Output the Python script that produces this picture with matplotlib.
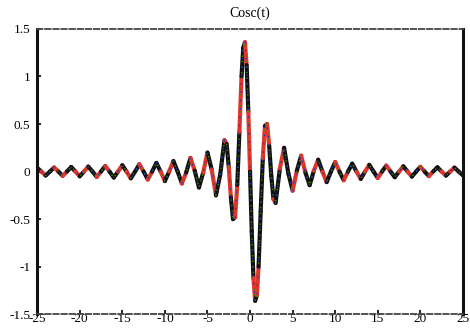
import numpy as np
import matplotlib
matplotlib.use('Agg')
import matplotlib.pyplot as plt
from matplotlib.collections import LineCollection

# sample times and Cosc(t) values
t = [-25, -24.5, -24, -23.5, -23, -22.5, -22, -21.5, -21, -20.5, -20, -19.5, -19, -18.5,
     -18, -17.5, -17, -16.5, -16, -15.5, -15, -14.5, -14, -13.5, -13, -12.5, -12, -11.5,
     -11, -10.5, -10, -9.5, -9, -8.5, -8, -7.5, -7, -6.5, -6, -5.5, -5, -4.5, -4, -3.5,
     -3, -2.75, -2.5, -2.25, -2, -1.75, -1.5, -1.25, -1, -0.8, -0.6, -0.4, -0.2,
     0, 0.2, 0.4, 0.6, 0.8, 1, 1.25, 1.5, 1.75, 2, 2.25, 2.5, 2.75, 3,
     3.5, 4, 4.5, 5, 5.5, 6, 6.5, 7, 7.5, 8, 8.5, 9, 9.5, 10, 10.5, 11, 11.5, 12, 12.5,
     13, 13.5, 14, 14.5, 15, 15.5, 16, 16.5, 17, 17.5, 18, 18.5, 19, 19.5, 20, 20.5,
     21, 21.5, 22, 22.5, 23, 23.5, 24, 24.5, 25]
cosc = [0.04, 0.0, -0.042, 0.0, 0.043, 0.0, -0.045, 0.0, 0.048, 0.0, -0.05, 0.0, 0.053, 0.0,
        -0.056, 0.0, 0.059, 0.0, -0.063, 0.0, 0.067, 0.0, -0.071, 0.0, 0.077, 0.0, -0.083, 0.0,
        0.091, 0.0, -0.10, 0.0, 0.111, 0.0, -0.125, -0.01, 0.143, 0.01, -0.167, -0.01, 0.20, 0.02, -0.25, -0.03,
        0.33, 0.29, 0.05, -0.27, -0.50, -0.48, -0.14, 0.42, 1.00, 1.30, 1.36, 1.12, 0.63,
        0.0, -0.63, -1.12, -1.36, -1.30, -1.00, -0.42, 0.14, 0.48, 0.50, 0.27, -0.05, -0.29, -0.33,
        0.03, 0.25, -0.02, -0.20, 0.01, 0.167, -0.01, -0.143, 0.01, 0.125, 0.0, -0.111, 0.0, 0.10, 0.0, -0.091, 0.0, 0.083, 0.0,
        -0.077, 0.0, 0.071, 0.0, -0.067, 0.0, 0.063, 0.0, -0.059, 0.0, 0.056, 0.0, -0.053, 0.0, 0.05, 0.0,
        -0.048, 0.0, 0.045, 0.0, -0.043, 0.0, 0.042, 0.0, -0.04]

xticks = [-25, -20, -15, -10, -5, 0, 5, 10, 15, 20, 25]
yticks = [-1.5, -1, -0.5, 0, 0.5, 1, 1.5]

plt.rcParams['font.family'] = ['Liberation Serif', 'DejaVu Serif']

fig = plt.figure(figsize=(4.7, 3.29), dpi=100)
ax = fig.add_axes([0.079, 0.045, 0.906, 0.867])

pts = np.column_stack([t, cosc])
segs = np.stack([pts[:-1], pts[1:]], axis=1)
seg_colors = ['#111111', '#e8322b', '#111111', '#111111', '#e8322b']
colors = [seg_colors[i % len(seg_colors)] for i in range(len(segs))]
ax.add_collection(LineCollection(segs, colors=colors, linewidths=3.0, capstyle='round', joinstyle='round'))
ax.plot(t, cosc, color='#3f8a00', lw=1.0, linestyle=(0, (1, 3)))
ax.plot(t, cosc, color='#1a33cc', lw=1.0, linestyle=(2, (1, 5)))

ax.set_xlim(-25, 25)
ax.set_ylim(-1.5, 1.5)
ax.set_xticks(xticks)
ax.set_xticklabels([f'{v:g}' for v in xticks])
ax.set_yticks(yticks)
ax.set_yticklabels([f'{v:g}' for v in yticks])
ax.tick_params(axis='both', direction='in', length=3, width=1.2, labelsize=9.5, color='black')
ax.tick_params(axis='x', pad=-1)
ax.tick_params(axis='y', pad=5)

for side in ['left', 'right']:
    ax.spines[side].set_linestyle((0, (3, 1)))
    ax.spines[side].set_linewidth(2.2)
    ax.spines[side].set_color('#111111')
for side in ['top', 'bottom']:
    ax.spines[side].set_linestyle((0, (3, 1.5)))
    ax.spines[side].set_linewidth(1.3)
    ax.spines[side].set_color('#444444')

ax.set_title('Cosc(t)', fontsize=10, pad=9)

plt.savefig('out.png', dpi=100)
